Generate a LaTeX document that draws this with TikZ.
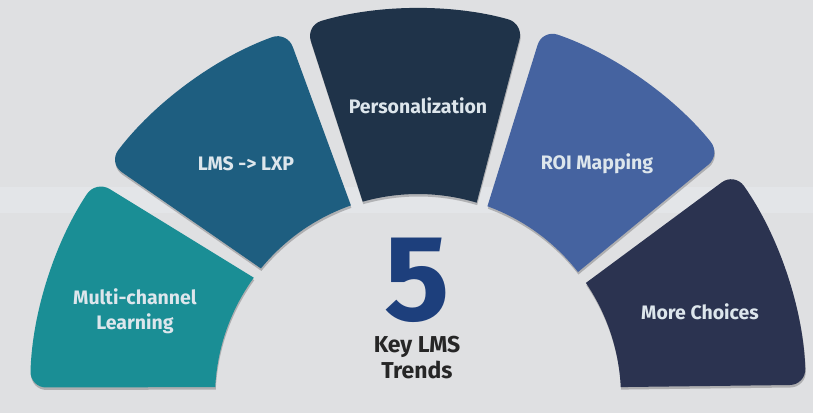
\documentclass[tikz,border=0pt]{standalone}
\usepackage{fontspec}
\setmainfont{Fira Sans}
\usetikzlibrary{shadows}
\definecolor{Paper}{HTML}{DFE0E2}
\definecolor{Band}{HTML}{E3E5E8}
\definecolor{SegA}{HTML}{1A8E95}
\definecolor{SegB}{HTML}{1E5E80}
\definecolor{SegC}{HTML}{1F3349}
\definecolor{SegD}{HTML}{4563A0}
\definecolor{SegE}{HTML}{2B3350}
\definecolor{Ink}{HTML}{DDE6EC}
\definecolor{Five}{HTML}{1D3F7C}
\definecolor{Dark}{HTML}{262626}

\begin{document}
\begin{tikzpicture}[x=1pt,y=1pt,
    seg/.style={drop shadow={shadow xshift=0.5pt,shadow yshift=-2.5pt,opacity=0.22,fill=black}},
    lbl/.style={text=Ink,align=center,font=\bfseries\fontsize{19.5}{25}\selectfont}]
    \fill[Paper] (-418,-16) rectangle (395,397);
    \fill[Band] (-418,184) rectangle (395,210);
    \useasboundingbox (-418,-16) rectangle (395,397);
    % the five sectors: outer start/end, inner start/end
    \foreach \os/\oe/\is/\ie/\col in {1.8/35.3/2.8/34.2/SegE,38.7/71.3/38/70/SegD,
        74.2/106.8/73.2/105.8/SegC,109.7/142.9/109.3/140.7/SegB,146.1/178.6/144/177.2/SegA}
      \fill[\col,seg] (\is:203) [rounded corners=16pt] -- (\os:388)
        arc[start angle=\os,end angle=\oe,radius=388] [sharp corners] -- (\ie:203)
        arc[start angle=\ie,end angle=\is,radius=203] -- cycle;
    \node[lbl] (multi) at (-283,86) {Multi-channel\\Learning};
    \node[lbl] (lxp) at (-172,233) {LMS -> LXP};
    \node[lbl] (pers) at (0,291) {Personalization};
    \node[lbl] (roi) at (179,233) {ROI Mapping};
    \node[lbl] (more) at (282,85) {More Choices};
    \node[text=Five,anchor=base,inner sep=0pt,font=\bfseries\fontsize{122}{122}\selectfont] (five) at (-1,77) {5};
    \node[text=Dark,align=center,font=\bfseries\fontsize{23}{26}\selectfont] (key) at (-1,39) {Key LMS\\Trends};
\end{tikzpicture}
\end{document}
